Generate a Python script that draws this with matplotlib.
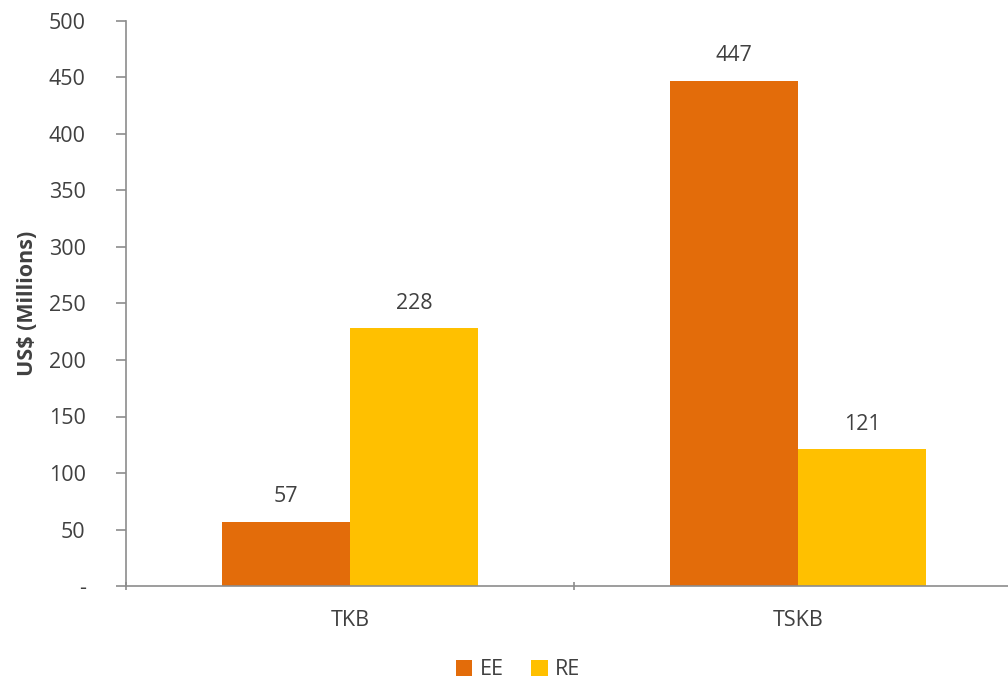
import numpy as np
import matplotlib
matplotlib.use("Agg")
import matplotlib.pyplot as plt
from matplotlib.ticker import FixedLocator

# Данные
banks = ["TKB", "TSKB"]
series = ["EE", "RE"]
ee_values = [57, 447]
re_values = [228, 121]
colors = ["#E36C0A", "#FFC000"]
y_ticks = [0, 50, 100, 150, 200, 250, 300, 350, 400, 450, 500]
y_tick_labels = ["-", "50", "100", "150", "200", "250", "300", "350", "400", "450", "500"]

plt.rcParams["font.family"] = ["Open Sans", "DejaVu Sans"]
text_color = "#404040"
axis_color = "#8c8c8c"
fs = 15.5

fig = plt.figure(figsize=(10.08, 6.86), dpi=100)
# Ось выходит за правый край, как в оригинале
ax = fig.add_axes([126 / 1008, 1 - 586 / 686, 896 / 1008, 565 / 686])

x = np.arange(len(banks))
w = 128 / 448
for i, (vals, name, c) in enumerate(zip([ee_values, re_values], series, colors)):
    pos = x + (i - 0.5) * w
    bars = ax.bar(pos, vals, width=w, color=c, label=name, zorder=2)
    for b, v in zip(bars, vals):
        ax.text(b.get_x() + b.get_width() / 2, v + 13, str(v),
                ha="center", va="bottom", fontsize=fs, color=text_color)

ax.set_xlim(-0.5, len(banks) - 0.5)
ax.set_ylim(0, 500)
ax.set_yticks(y_ticks)
ax.set_yticklabels(y_tick_labels)
ax.set_xticks(x)
ax.set_xticklabels(banks)
ax.xaxis.set_minor_locator(FixedLocator(np.arange(len(banks) + 1) - 0.5))
ax.tick_params(axis="x", which="major", length=0, pad=17, labelsize=fs, labelcolor=text_color)
ax.tick_params(axis="x", which="minor", length=6, direction="inout", color=axis_color, width=1.2)
ax.tick_params(axis="y", length=7, direction="out", color=axis_color, width=1.2,
               labelsize=fs, labelcolor=text_color, pad=22)

for s in ["top", "right"]:
    ax.spines[s].set_visible(False)
for s in ["left", "bottom"]:
    ax.spines[s].set_color(axis_color)
    ax.spines[s].set_linewidth(1.2)

ax.set_ylabel("US$ (Millions)", fontsize=fs, fontweight="bold", color=text_color, labelpad=8)

leg = fig.legend(loc="lower center", bbox_to_anchor=(518 / 1008, -0.02), ncol=2, frameon=False,
                 fontsize=fs, handlelength=0.75, handleheight=0.75, handletextpad=0.35,
                 columnspacing=1.3)
for t in leg.get_texts():
    t.set_color(text_color)

fig.savefig("out.png", dpi=100)
